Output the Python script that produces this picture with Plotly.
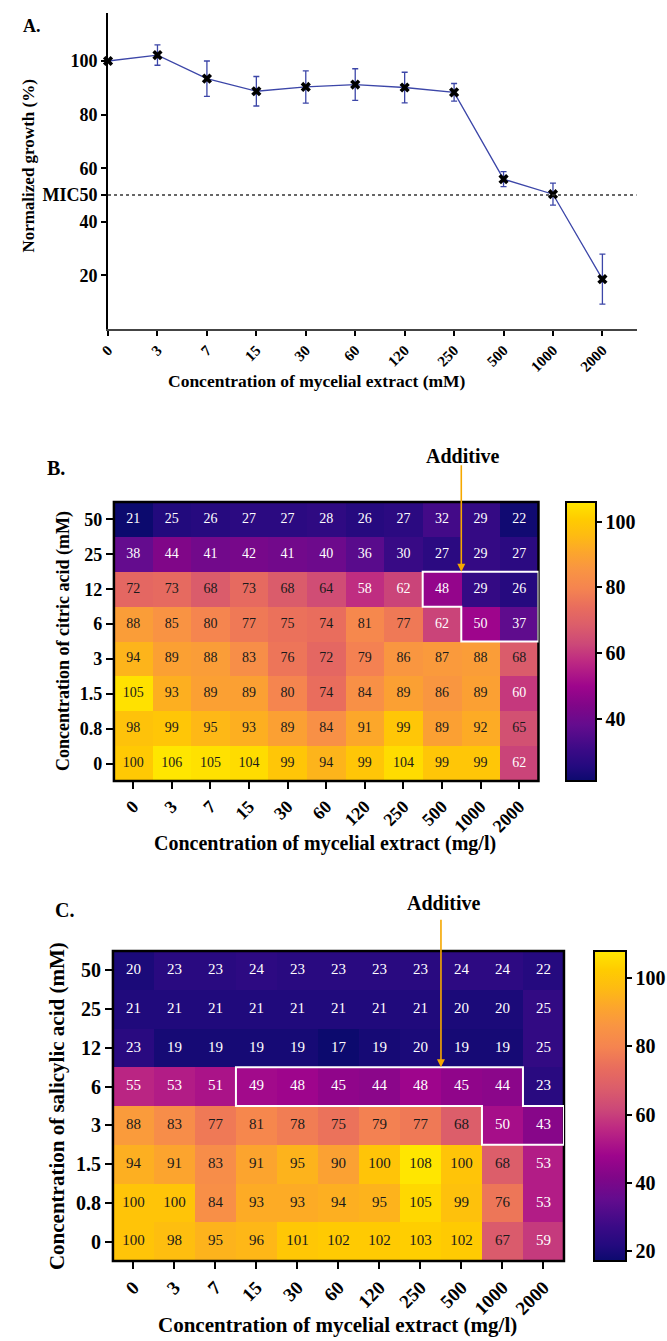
import plotly.graph_objects as go

W, H = 667, 1341
SERIF = "'Times New Roman', 'Liberation Serif', 'DejaVu Serif', serif"

# ---------------- data ----------------
conc_labels = ["0", "3", "7", "15", "30", "60", "120", "250", "500", "1000", "2000"]
growth_mean = [100, 102.2, 93.4, 88.7, 90.3, 91.2, 90.1, 88.3, 55.9, 50.3, 18.6]
growth_err = [0, 3.8, 6.6, 5.5, 6.0, 5.9, 5.7, 3.3, 2.8, 4.1, 9.3]
mic50 = 50

acid_labels_top_down = ["50", "25", "12", "6", "3", "1.5", "0.8", "0"]

citric_top_down = [
    [21, 25, 26, 27, 27, 28, 26, 27, 32, 29, 22],
    [38, 44, 41, 42, 41, 40, 36, 30, 27, 29, 27],
    [72, 73, 68, 73, 68, 64, 58, 62, 48, 29, 26],
    [88, 85, 80, 77, 75, 74, 81, 77, 62, 50, 37],
    [94, 89, 88, 83, 76, 72, 79, 86, 87, 88, 68],
    [105, 93, 89, 89, 80, 74, 84, 89, 86, 89, 60],
    [98, 99, 95, 93, 89, 84, 91, 99, 89, 92, 65],
    [100, 106, 105, 104, 99, 94, 99, 104, 99, 99, 62],
]

salicylic_top_down = [
    [20, 23, 23, 24, 23, 23, 23, 23, 24, 24, 22],
    [21, 21, 21, 21, 21, 21, 21, 21, 20, 20, 25],
    [23, 19, 19, 19, 19, 17, 19, 20, 19, 19, 25],
    [55, 53, 51, 49, 48, 45, 44, 48, 45, 44, 23],
    [88, 83, 77, 81, 78, 75, 79, 77, 68, 50, 43],
    [94, 91, 83, 91, 95, 90, 100, 108, 100, 68, 53],
    [100, 100, 84, 93, 93, 94, 95, 105, 99, 76, 53],
    [100, 98, 95, 96, 101, 102, 102, 103, 102, 67, 59],
]

# boundaries of the highlighted (additive) regions, in cell-index units
citric_outline = [(7.5, 5.5), (10.5, 5.5), (10.5, 3.5), (8.5, 3.5), (8.5, 4.5), (7.5, 4.5)]
salicylic_outline = [(2.5, 4.5), (9.5, 4.5), (9.5, 3.5), (10.5, 3.5), (10.5, 2.5),
                     (8.5, 2.5), (8.5, 3.5), (2.5, 3.5)]

# ---------------- helpers ----------------
def fx(px):
    return px / W

def fy(py):
    return 1 - py / H

acid_labels = acid_labels_top_down[::-1]
citric = citric_top_down[::-1]
salicylic = salicylic_top_down[::-1]
xi = list(range(len(conc_labels)))
yi = list(range(len(acid_labels)))

cscale = [
    [0.0, "#0C0A6E"], [0.05, "#230A7E"], [0.11, "#3A0A86"], [0.2, "#640C8E"],
    [0.27, "#800688"], [0.34, "#9E058C"], [0.43, "#BE2A82"], [0.49, "#CC4878"],
    [0.56, "#DC5E6A"], [0.62, "#E86C5E"], [0.69, "#F58450"], [0.76, "#F99542"],
    [0.82, "#FCA62C"], [0.88, "#FEBB12"], [0.94, "#FFCC00"], [1.0, "#FFE600"],
]

LINE_BLUE = "#3C46A8"
ORANGE = "#F5A800"

fig = go.Figure()

# ---------------- Panel A ----------------
fig.add_trace(go.Scatter(
    x=xi, y=growth_mean, mode="lines+markers",
    line=dict(color=LINE_BLUE, width=1.3),
    marker=dict(symbol="x", size=9, color="black", line=dict(width=0)),
    error_y=dict(type="data", array=growth_err, visible=True,
                 color=LINE_BLUE, thickness=1.3, width=3),
    xaxis="x", yaxis="y", showlegend=False, cliponaxis=False,
))

# ---------------- Panel B / C heatmaps ----------------
def add_heat(z, xa, ya, zmin, zmax, cb_x, cb_y, cb_len, cb_th, cb_tickvals, fsize, tfsize):
    fig.add_trace(go.Heatmap(
        z=z, x=xi, y=yi, xaxis=xa, yaxis=ya,
        colorscale=cscale, zmin=zmin, zmax=zmax,
        colorbar=dict(
            x=cb_x, xanchor="left", y=cb_y, yanchor="middle",
            len=cb_len, lenmode="fraction", thickness=cb_th,
            thicknessmode="pixels", xpad=0, ypad=0,
            outlinewidth=2, outlinecolor="black",
            tickvals=cb_tickvals, ticks="outside", ticklen=5,
            tickwidth=2, tickcolor="black",
            tickfont=dict(family=SERIF, size=tfsize, color="black", weight="bold"),
        ),
        hoverinfo="z",
    ))
    tx, ty, tt, tc = [], [], [], []
    for r, row in enumerate(z):
        for c, v in enumerate(row):
            tx.append(c)
            ty.append(r)
            tt.append(str(v))
            tc.append("white" if v < 63 else "#1a1a1a")
    fig.add_trace(go.Scatter(
        x=tx, y=ty, text=tt, mode="text", xaxis=xa, yaxis=ya,
        textfont=dict(family=SERIF, size=fsize, color=tc),
        showlegend=False, hoverinfo="skip",
    ))

add_heat(citric, "x2", "y2", 21, 106,
         fx(568), fy(641.5), 279 / H, 30, [40, 60, 80, 100], 14, 20)
add_heat(salicylic, "x3", "y3", 17, 108,
         fx(597), fy(1106), 310 / H, 32, [20, 40, 60, 80, 100], 15, 20)

# ---------------- axes ----------------
tick_common = dict(ticks="outside", tickcolor="black", tickwidth=2, showgrid=False,
                   zeroline=False)

fig.update_layout(
    width=W, height=H, margin=dict(l=0, r=0, t=0, b=0),
    paper_bgcolor="white", plot_bgcolor="white", showlegend=False,
    xaxis=dict(domain=[fx(101), fx(640)], range=[0, 10.69], anchor="y",
               tickvals=xi, ticktext=conc_labels, tickangle=-45, ticklen=5,
               showline=True, linecolor="#444", linewidth=1.5,
               tickfont=dict(family=SERIF, size=15, color="black", weight="bold"),
               **tick_common),
    yaxis=dict(domain=[fy(329), fy(13)], range=[0, 117.9], anchor="x",
               tickvals=[20, 40, 50, 60, 80, 100],
               ticktext=["20", "40", "MIC50", "60", "80", "100"], ticklen=5,
               showline=True, linecolor="black", linewidth=2,
               tickfont=dict(family=SERIF, size=18, color="black", weight="bold"),
               **tick_common),
    xaxis2=dict(domain=[fx(107), fx(540)], range=[-0.5, 10.5], anchor="y2",
                tickvals=xi, ticktext=conc_labels, tickangle=-45, ticklen=7,
                showline=False,
                tickfont=dict(family=SERIF, size=18, color="black", weight="bold"),
                **tick_common),
    yaxis2=dict(domain=[fy(781), fy(502)], range=[-0.5, 7.5], anchor="x2",
                tickvals=yi, ticktext=acid_labels, ticklen=7, showline=False,
                tickfont=dict(family=SERIF, size=18, color="black", weight="bold"),
                **tick_common),
    xaxis3=dict(domain=[fx(106), fx(566)], range=[-0.5, 10.5], anchor="y3",
                tickvals=xi, ticktext=conc_labels, tickangle=-45, ticklen=7,
                showline=False,
                tickfont=dict(family=SERIF, size=19, color="black", weight="bold"),
                **tick_common),
    yaxis3=dict(domain=[fy(1261), fy(951)], range=[-0.5, 7.5], anchor="x3",
                tickvals=yi, ticktext=acid_labels, ticklen=7, showline=False,
                tickfont=dict(family=SERIF, size=20, color="black", weight="bold"),
                **tick_common),
)

shapes = []
# MIC50 dotted line
shapes.append(dict(type="line", xref="x domain", yref="y", x0=0, x1=1, y0=mic50, y1=mic50,
                   line=dict(color="#333", width=1.6, dash="dot")))
# heatmap borders
for xa, ya in (("x2", "y2"), ("x3", "y3")):
    shapes.append(dict(type="rect", xref=f"{xa} domain", yref=f"{ya} domain",
                       x0=0, x1=1, y0=0, y1=1, line=dict(color="black", width=2.5)))

def outline_path(pts):
    return "M " + " L ".join(f"{a} {b}" for a, b in pts) + " Z"

shapes.append(dict(type="path", xref="x2", yref="y2", path=outline_path(citric_outline),
                   line=dict(color="white", width=2)))
shapes.append(dict(type="path", xref="x3", yref="y3", path=outline_path(salicylic_outline),
                   line=dict(color="white", width=2)))
fig.update_layout(shapes=shapes)

# ---------------- annotations ----------------
def txt(text, x, y, size, angle=0, weight="bold", xanchor="center"):
    return dict(text=text, x=fx(x), y=fy(y), xref="paper", yref="paper",
                showarrow=False, textangle=angle, xanchor=xanchor, yanchor="middle",
                font=dict(family=SERIF, size=size, color="black", weight=weight))

ann = [
    txt("A.", 12, 26, 18, xanchor="left"),
    txt("Normalized growth (%)", 20, 166, 17, angle=-90),
    txt("Concentration of mycelial extract (mM)", 314, 381, 17.5),
    txt("B.", 37, 468, 20, xanchor="left"),
    txt("Additive", 463, 456, 20),
    txt("Concentration of citric acid (mM)", 55, 641, 18, angle=-90),
    txt("Concentration of mycelial extract (mg/l)", 322, 843, 20),
    txt("C.", 45, 910, 20, xanchor="left"),
    txt("Additive", 443, 903, 20),
    txt("Concentration of salicylic acid (mM)", 49, 1106, 21, angle=-90),
    txt("Concentration of mycelial extract (mg/l)", 335, 1325, 21),
]
# arrows
ann.append(dict(x=8.5, y=5.5, xref="x2", yref="y2", text="", showarrow=True,
                ax=0, ay=-108, arrowhead=2, arrowsize=1, arrowwidth=1.6,
                arrowcolor=ORANGE))
ann.append(dict(x=7.5, y=4.5, xref="x3", yref="y3", text="", showarrow=True,
                ax=0, ay=-149, arrowhead=2, arrowsize=1, arrowwidth=1.6,
                arrowcolor=ORANGE))
fig.update_layout(annotations=ann)

fig.write_html("out.html")
